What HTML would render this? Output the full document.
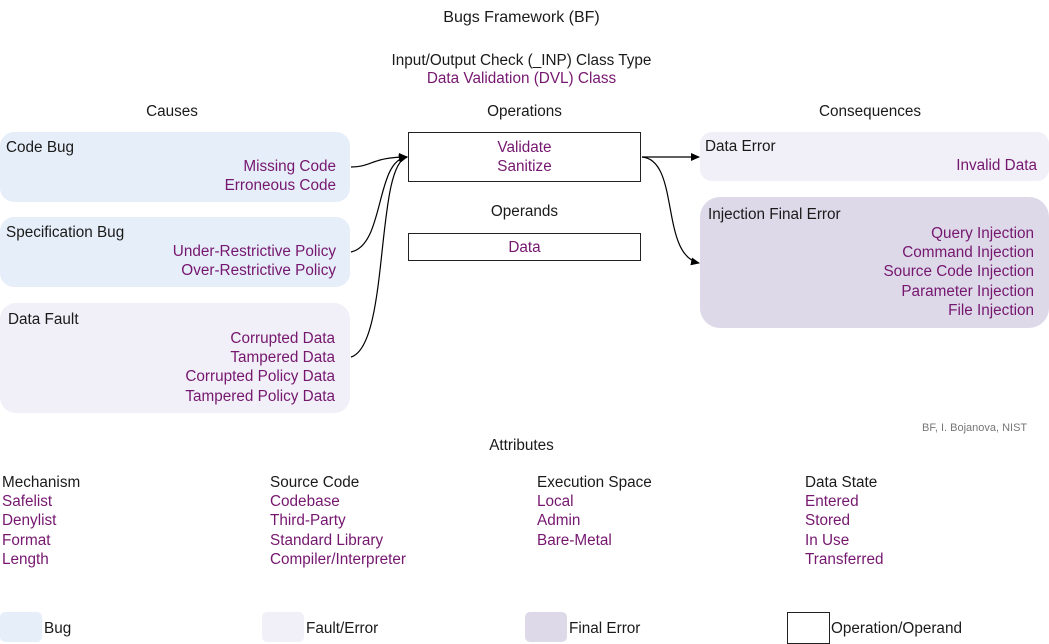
<!DOCTYPE html>
<html><head><meta charset="utf-8"><style>
body{margin:0;width:1049px;height:639px;position:relative;background:#fff;font-family:"Liberation Sans",sans-serif;font-size:15.3px;color:#1a1a1a;overflow:hidden}
.a{position:absolute;white-space:nowrap;line-height:19.2px}
.p{color:#76176f}
.r{text-align:right}
.c{text-align:center}
.box{position:absolute}
</style></head><body>
<div class="a c" style="left:0;width:1043px;top:8px;font-size:16px">Bugs Framework (BF)</div>
<div class="a c" style="left:0;width:1043px;top:51px">Input/Output Check (_INP) Class Type</div>
<div class="a c p" style="left:0;width:1043px;top:69px">Data Validation (DVL) Class</div>
<div class="a c" style="left:0;width:344px;top:102px">Causes</div>
<div class="a c" style="left:408px;width:233px;top:102px">Operations</div>
<div class="a c" style="left:700px;width:340px;top:102px">Consequences</div>

<div class="box" style="left:0;top:132px;width:350px;height:70px;background:#e6eef9;border-radius:14px"></div>
<div class="a" style="left:6px;top:138px">Code Bug</div>
<div class="a r p" style="left:0;width:336px;top:157px">Missing Code<br>Erroneous Code</div>

<div class="box" style="left:0;top:217px;width:350px;height:70px;background:#e6eef9;border-radius:14px"></div>
<div class="a" style="left:6px;top:223px">Specification Bug</div>
<div class="a r p" style="left:0;width:336px;top:242px">Under-Restrictive Policy<br>Over-Restrictive Policy</div>

<div class="box" style="left:0;top:303px;width:350px;height:110px;background:#f1eff7;border-radius:16px"></div>
<div class="a" style="left:8px;top:310px">Data Fault</div>
<div class="a r p" style="left:0;width:335px;top:329px">Corrupted Data<br>Tampered Data<br>Corrupted Policy Data<br>Tampered Policy Data</div>

<div class="box" style="left:408px;top:132px;width:231px;height:48px;border:1px solid #222"></div>
<div class="a c p" style="left:408px;width:233px;top:138px">Validate<br>Sanitize</div>
<div class="a c" style="left:408px;width:233px;top:202px">Operands</div>
<div class="box" style="left:408px;top:233px;width:231px;height:26px;border:1px solid #222"></div>
<div class="a c p" style="left:408px;width:233px;top:238px">Data</div>

<div class="box" style="left:700px;top:132px;width:349px;height:49px;background:#f1eff7;border-radius:12px"></div>
<div class="a" style="left:705px;top:137px">Data Error</div>
<div class="a r p" style="left:700px;width:337px;top:156px">Invalid Data</div>

<div class="box" style="left:700px;top:197px;width:349px;height:131px;background:#ddd9e9;border-radius:20px"></div>
<div class="a" style="left:708px;top:205px">Injection Final Error</div>
<div class="a r p" style="left:700px;width:334px;top:224px">Query Injection<br>Command Injection<br>Source Code Injection<br>Parameter Injection<br>File Injection</div>

<div class="a" style="left:922px;top:419px;font-size:11px;color:#777">BF, I. Bojanova, NIST</div>
<div class="a c" style="left:0;width:1043px;top:436px">Attributes</div>

<div class="a" style="left:2px;top:473px">Mechanism<br><span class="p">Safelist<br>Denylist<br>Format<br>Length</span></div>
<div class="a" style="left:270px;top:473px">Source Code<br><span class="p">Codebase<br>Third-Party<br>Standard Library<br>Compiler/Interpreter</span></div>
<div class="a" style="left:537px;top:473px">Execution Space<br><span class="p">Local<br>Admin<br>Bare-Metal</span></div>
<div class="a" style="left:805px;top:473px">Data State<br><span class="p">Entered<br>Stored<br>In Use<br>Transferred</span></div>

<div class="box" style="left:0;top:612px;width:42px;height:30px;background:#e6eef9;border-radius:5px"></div>
<div class="a" style="left:44px;top:619px">Bug</div>
<div class="box" style="left:262px;top:612px;width:42px;height:30px;background:#f1eff7;border-radius:5px"></div>
<div class="a" style="left:306px;top:619px">Fault/Error</div>
<div class="box" style="left:525px;top:612px;width:42px;height:30px;background:#ddd9e9;border-radius:5px"></div>
<div class="a" style="left:569px;top:619px">Final Error</div>
<div class="box" style="left:787px;top:612px;width:41px;height:30px;border:1px solid #222"></div>
<div class="a" style="left:831px;top:619px">Operation/Operand</div>

<svg width="1049" height="639" style="position:absolute;left:0;top:0">
<defs><marker id="m" markerWidth="9" markerHeight="8" refX="8" refY="4" orient="auto" markerUnits="userSpaceOnUse"><path d="M0,0 L9,4 L0,8z" fill="#000"/></marker></defs>
<g fill="none" stroke="#000" stroke-width="1.2">
<path d="M351,167 C372,167 372,157 407,157" marker-end="url(#m)"/>
<path d="M351,252 C385,245 375,160 407,157" marker-end="url(#m)"/>
<path d="M351,357 C390,345 375,165 407,157" marker-end="url(#m)"/>
<path d="M642,157 L699,157" marker-end="url(#m)"/>
<path d="M642,157 C680,160 660,255 699,263" marker-end="url(#m)"/>
</g></svg>
</body></html>
